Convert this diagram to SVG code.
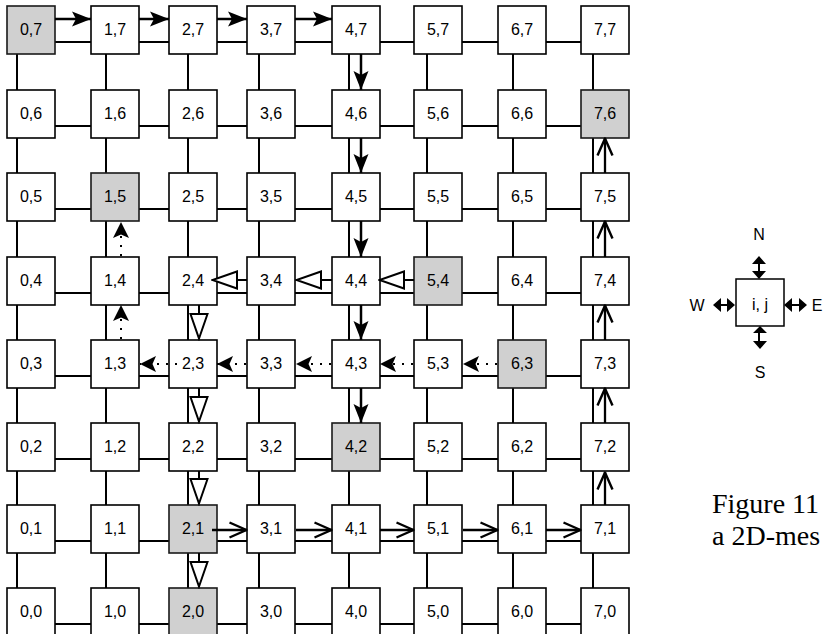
<svg xmlns="http://www.w3.org/2000/svg" width="826" height="634" viewBox="0 0 826 634">
<style>
.box rect{fill:#fff;stroke:#000;stroke-width:1.6}
.box.sh rect{fill:#d0d0d0;stroke:#1a1a1a}
.box text,.lg text{font-family:"Liberation Sans",Arial,sans-serif;font-size:16px;text-anchor:middle;fill:#000}
.mesh line{stroke:#000;stroke-width:2}
.r1{fill:none;stroke:#000;stroke-width:2.5;marker-end:url(#m1)}
.r2{fill:none;stroke:#000;stroke-width:2;marker-end:url(#m2)}
.r3{fill:none;stroke:#000;stroke-width:2;stroke-dasharray:2 7;marker-end:url(#m3)}
.r4{fill:none;stroke:#000;stroke-width:2.3;marker-end:url(#m4)}
.cap{font-family:"Liberation Serif","Times New Roman",serif;font-size:28px;fill:#000}
</style>
<defs>
<marker id="m1" markerUnits="userSpaceOnUse" markerWidth="19" markerHeight="16" viewBox="0 0 19 16" refX="19" refY="8" orient="auto"><path d="M0,0.5 L19,8 L0,15.5 L4,8 Z" fill="#000"/></marker>
<marker id="m2" markerUnits="userSpaceOnUse" markerWidth="28" markerHeight="20" viewBox="0 0 28 20" refX="26.5" refY="10" orient="auto"><path d="M1.5,1.5 L26,10 L1.5,18.5 Z" fill="#fff" stroke="#000" stroke-width="2"/></marker>
<marker id="m3" markerUnits="userSpaceOnUse" markerWidth="16" markerHeight="16" viewBox="0 0 16 16" refX="16" refY="8" orient="auto"><path d="M0,0 L16,8 L0,16 L3.5,8 Z" fill="#000"/></marker>
<marker id="m4" markerUnits="userSpaceOnUse" markerWidth="22" markerHeight="20" viewBox="-3 -3 22 20" refX="17.5" refY="7.5" orient="auto"><path d="M0,0 L17,7.5 L0,15" fill="none" stroke="#000" stroke-width="2.4" stroke-linejoin="round"/></marker>
</defs>

<g id="mesh" class="mesh">
<line x1="54" y1="42" x2="581" y2="42"/>
<line x1="54" y1="126" x2="581" y2="126"/>
<line x1="54" y1="209" x2="581" y2="209"/>
<line x1="54" y1="293" x2="581" y2="293"/>
<line x1="54" y1="376" x2="581" y2="376"/>
<line x1="54" y1="459" x2="581" y2="459"/>
<line x1="54" y1="541" x2="581" y2="541"/>
<line x1="54" y1="624" x2="581" y2="624"/>
<line x1="17" y1="54" x2="17" y2="634"/>
<line x1="106" y1="54" x2="106" y2="634"/>
<line x1="188" y1="54" x2="188" y2="634"/>
<line x1="259" y1="54" x2="259" y2="634"/>
<line x1="349" y1="54" x2="349" y2="634"/>
<line x1="427" y1="54" x2="427" y2="634"/>
<line x1="513" y1="54" x2="513" y2="634"/>
<line x1="593" y1="54" x2="593" y2="634"/>
</g>

<g id="nodes">
<g id="n0_7" class="box sh"><rect x="7" y="6" width="48" height="48"/><text x="31" y="35">0,7</text></g>
<g id="n1_7" class="box"><rect x="91" y="6" width="48" height="48"/><text x="115" y="35">1,7</text></g>
<g id="n2_7" class="box"><rect x="169" y="6" width="48" height="48"/><text x="193" y="35">2,7</text></g>
<g id="n3_7" class="box"><rect x="247" y="6" width="48" height="48"/><text x="271" y="35">3,7</text></g>
<g id="n4_7" class="box"><rect x="332" y="6" width="48" height="48"/><text x="356" y="35">4,7</text></g>
<g id="n5_7" class="box"><rect x="414" y="6" width="48" height="48"/><text x="438" y="35">5,7</text></g>
<g id="n6_7" class="box"><rect x="498" y="6" width="48" height="48"/><text x="522" y="35">6,7</text></g>
<g id="n7_7" class="box"><rect x="581" y="6" width="48" height="48"/><text x="605" y="35">7,7</text></g>

<g id="n0_6" class="box"><rect x="7" y="90" width="48" height="48"/><text x="31" y="119">0,6</text></g>
<g id="n1_6" class="box"><rect x="91" y="90" width="48" height="48"/><text x="115" y="119">1,6</text></g>
<g id="n2_6" class="box"><rect x="169" y="90" width="48" height="48"/><text x="193" y="119">2,6</text></g>
<g id="n3_6" class="box"><rect x="247" y="90" width="48" height="48"/><text x="271" y="119">3,6</text></g>
<g id="n4_6" class="box"><rect x="332" y="90" width="48" height="48"/><text x="356" y="119">4,6</text></g>
<g id="n5_6" class="box"><rect x="414" y="90" width="48" height="48"/><text x="438" y="119">5,6</text></g>
<g id="n6_6" class="box"><rect x="498" y="90" width="48" height="48"/><text x="522" y="119">6,6</text></g>
<g id="n7_6" class="box sh"><rect x="581" y="90" width="48" height="48"/><text x="605" y="119">7,6</text></g>

<g id="n0_5" class="box"><rect x="7" y="173" width="48" height="48"/><text x="31" y="202">0,5</text></g>
<g id="n1_5" class="box sh"><rect x="91" y="173" width="48" height="48"/><text x="115" y="202">1,5</text></g>
<g id="n2_5" class="box"><rect x="169" y="173" width="48" height="48"/><text x="193" y="202">2,5</text></g>
<g id="n3_5" class="box"><rect x="247" y="173" width="48" height="48"/><text x="271" y="202">3,5</text></g>
<g id="n4_5" class="box"><rect x="332" y="173" width="48" height="48"/><text x="356" y="202">4,5</text></g>
<g id="n5_5" class="box"><rect x="414" y="173" width="48" height="48"/><text x="438" y="202">5,5</text></g>
<g id="n6_5" class="box"><rect x="498" y="173" width="48" height="48"/><text x="522" y="202">6,5</text></g>
<g id="n7_5" class="box"><rect x="581" y="173" width="48" height="48"/><text x="605" y="202">7,5</text></g>

<g id="n0_4" class="box"><rect x="7" y="257" width="48" height="48"/><text x="31" y="286">0,4</text></g>
<g id="n1_4" class="box"><rect x="91" y="257" width="48" height="48"/><text x="115" y="286">1,4</text></g>
<g id="n2_4" class="box"><rect x="169" y="257" width="48" height="48"/><text x="193" y="286">2,4</text></g>
<g id="n3_4" class="box"><rect x="247" y="257" width="48" height="48"/><text x="271" y="286">3,4</text></g>
<g id="n4_4" class="box"><rect x="332" y="257" width="48" height="48"/><text x="356" y="286">4,4</text></g>
<g id="n5_4" class="box sh"><rect x="414" y="257" width="48" height="48"/><text x="438" y="286">5,4</text></g>
<g id="n6_4" class="box"><rect x="498" y="257" width="48" height="48"/><text x="522" y="286">6,4</text></g>
<g id="n7_4" class="box"><rect x="581" y="257" width="48" height="48"/><text x="605" y="286">7,4</text></g>

<g id="n0_3" class="box"><rect x="7" y="340" width="48" height="48"/><text x="31" y="369">0,3</text></g>
<g id="n1_3" class="box"><rect x="91" y="340" width="48" height="48"/><text x="115" y="369">1,3</text></g>
<g id="n2_3" class="box"><rect x="169" y="340" width="48" height="48"/><text x="193" y="369">2,3</text></g>
<g id="n3_3" class="box"><rect x="247" y="340" width="48" height="48"/><text x="271" y="369">3,3</text></g>
<g id="n4_3" class="box"><rect x="332" y="340" width="48" height="48"/><text x="356" y="369">4,3</text></g>
<g id="n5_3" class="box"><rect x="414" y="340" width="48" height="48"/><text x="438" y="369">5,3</text></g>
<g id="n6_3" class="box sh"><rect x="498" y="340" width="48" height="48"/><text x="522" y="369">6,3</text></g>
<g id="n7_3" class="box"><rect x="581" y="340" width="48" height="48"/><text x="605" y="369">7,3</text></g>

<g id="n0_2" class="box"><rect x="7" y="423" width="48" height="48"/><text x="31" y="452">0,2</text></g>
<g id="n1_2" class="box"><rect x="91" y="423" width="48" height="48"/><text x="115" y="452">1,2</text></g>
<g id="n2_2" class="box"><rect x="169" y="423" width="48" height="48"/><text x="193" y="452">2,2</text></g>
<g id="n3_2" class="box"><rect x="247" y="423" width="48" height="48"/><text x="271" y="452">3,2</text></g>
<g id="n4_2" class="box sh"><rect x="332" y="423" width="48" height="48"/><text x="356" y="452">4,2</text></g>
<g id="n5_2" class="box"><rect x="414" y="423" width="48" height="48"/><text x="438" y="452">5,2</text></g>
<g id="n6_2" class="box"><rect x="498" y="423" width="48" height="48"/><text x="522" y="452">6,2</text></g>
<g id="n7_2" class="box"><rect x="581" y="423" width="48" height="48"/><text x="605" y="452">7,2</text></g>

<g id="n0_1" class="box"><rect x="7" y="505" width="48" height="48"/><text x="31" y="534">0,1</text></g>
<g id="n1_1" class="box"><rect x="91" y="505" width="48" height="48"/><text x="115" y="534">1,1</text></g>
<g id="n2_1" class="box sh"><rect x="169" y="505" width="48" height="48"/><text x="193" y="534">2,1</text></g>
<g id="n3_1" class="box"><rect x="247" y="505" width="48" height="48"/><text x="271" y="534">3,1</text></g>
<g id="n4_1" class="box"><rect x="332" y="505" width="48" height="48"/><text x="356" y="534">4,1</text></g>
<g id="n5_1" class="box"><rect x="414" y="505" width="48" height="48"/><text x="438" y="534">5,1</text></g>
<g id="n6_1" class="box"><rect x="498" y="505" width="48" height="48"/><text x="522" y="534">6,1</text></g>
<g id="n7_1" class="box"><rect x="581" y="505" width="48" height="48"/><text x="605" y="534">7,1</text></g>

<g id="n0_0" class="box"><rect x="7" y="588" width="48" height="48"/><text x="31" y="617">0,0</text></g>
<g id="n1_0" class="box"><rect x="91" y="588" width="48" height="48"/><text x="115" y="617">1,0</text></g>
<g id="n2_0" class="box sh"><rect x="169" y="588" width="48" height="48"/><text x="193" y="617">2,0</text></g>
<g id="n3_0" class="box"><rect x="247" y="588" width="48" height="48"/><text x="271" y="617">3,0</text></g>
<g id="n4_0" class="box"><rect x="332" y="588" width="48" height="48"/><text x="356" y="617">4,0</text></g>
<g id="n5_0" class="box"><rect x="414" y="588" width="48" height="48"/><text x="438" y="617">5,0</text></g>
<g id="n6_0" class="box"><rect x="498" y="588" width="48" height="48"/><text x="522" y="617">6,0</text></g>
<g id="n7_0" class="box"><rect x="581" y="588" width="48" height="48"/><text x="605" y="617">7,0</text></g>
</g>

<g id="routes">
<path class="r1" d="M55,19 H91"/>
<path class="r1" d="M139,19 H169"/>
<path class="r1" d="M217,19 H247"/>
<path class="r1" d="M295,19 H332"/>
<path class="r1" d="M361,54 V90"/>
<path class="r1" d="M361,138 V173"/>
<path class="r1" d="M361,221 V257"/>
<path class="r1" d="M361,305 V340"/>
<path class="r1" d="M361,388 V423"/>

<path class="r2" d="M414,280 H379"/>
<path class="r2" d="M332,280 H296"/>
<path class="r2" d="M247,280 H212"/>
<path class="r2" d="M199,305 V339"/>
<path class="r2" d="M199,388 V422"/>
<path class="r2" d="M199,471 V504"/>
<path class="r2" d="M199,553 V587"/>

<path class="r3" d="M497,364 H463"/>
<path class="r3" d="M413,364 H380"/>
<path class="r3" d="M331,364 H296"/>
<path class="r3" d="M246,364 H217"/>
<path class="r3" d="M177,364 H140"/>
<path class="r3" d="M121,339 V305"/>
<path class="r3" d="M121,256 V222"/>

<path class="r4" d="M212,530 H247"/>
<path class="r4" d="M296,530 H332"/>
<path class="r4" d="M380,530 H414"/>
<path class="r4" d="M463,530 H498"/>
<path class="r4" d="M546,530 H581"/>
<path class="r4" d="M605,505 V472"/>
<path class="r4" d="M605,423 V388"/>
<path class="r4" d="M605,340 V305"/>
<path class="r4" d="M605,257 V221"/>
<path class="r4" d="M605,173 V138"/>
</g>

<g id="legend" class="lg">
<rect x="736" y="279" width="48" height="47" fill="#fff" stroke="#000" stroke-width="1.5"/>
<text x="760" y="310">i, j</text>
<text x="759" y="240">N</text>
<text x="760" y="378">S</text>
<text x="697" y="311">W</text>
<text x="817" y="311">E</text>
<path d="M759,262 V274 M759,331 V344 M718,305 H730 M789,305 H802" stroke="#000" stroke-width="2" fill="none"/>
<path d="M752,264 L759,256 L766,264 Z M752,271 L759,279 L766,271 Z M753,333 L760,326 L767,333 Z M753,341 L760,349 L767,341 Z M721,298 L713,305 L721,312 Z M727,298 L735,305 L727,312 Z M792,298 L784,305 L792,312 Z M799,298 L807,305 L799,312 Z" fill="#000"/>
</g>

<g id="caption">
<text class="cap" x="712" y="513">Figure 11</text>
<text class="cap" x="712" y="545">a 2D-mes</text>
</g>
</svg>
